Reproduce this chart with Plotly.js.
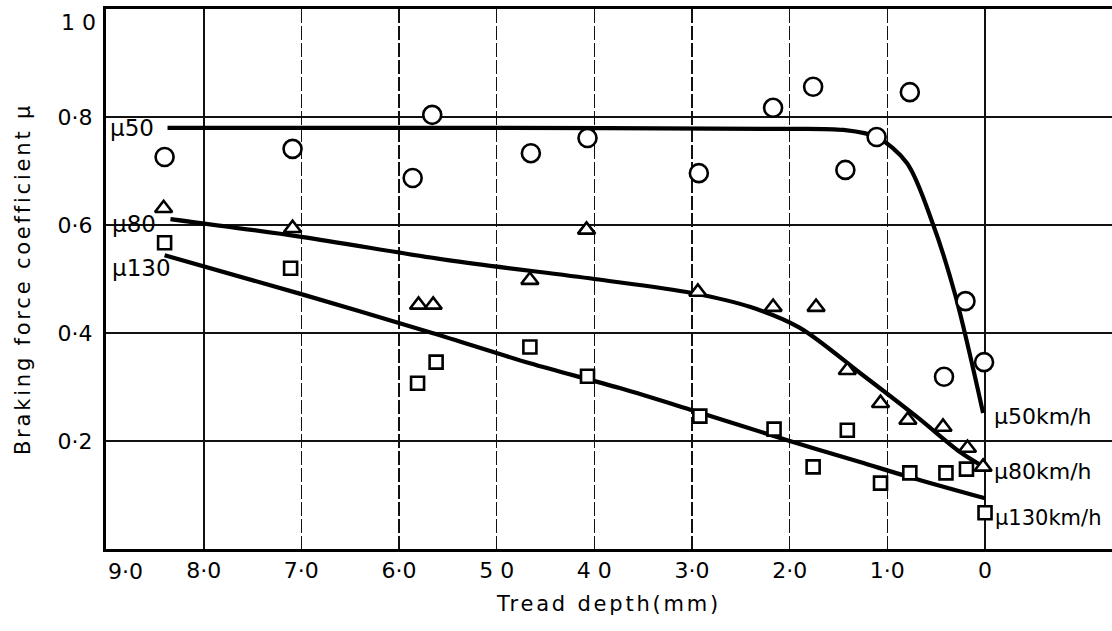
<!DOCTYPE html>
<html>
<head>
<meta charset="utf-8">
<script src="https://cdn.plot.ly/plotly-3.0.1.min.js"></script>
<style>
  html, body { margin: 0; padding: 0; background: #fff; }
  #chart { width: 1112px; height: 631px; }
  .xtitle, .ytitle { letter-spacing: 2.8px; }
</style>
</head>
<body>
<div id="chart"></div>
<script>
// Tread depth (mm) axis ticks
const depthTicks = [8, 7, 6, 5, 4, 3, 2, 1, 0];
const depthTickText = ["8·0", "7·0", "6·0", "5 0", "4 0", "3·0", "2·0", "1·0", "0"];
const muTicks = [0.2, 0.4, 0.6, 0.8];
const muTickText = ["0·2", "0·4", "0·6", "0·8"];

// Measured points, 50 km/h (circles)
const depth50 = [8.40, 7.09, 5.86, 5.66, 4.65, 4.07, 2.93, 2.17, 1.76, 1.43, 1.11, 0.77, 0.42, 0.20, 0.01];
const mu50 = [0.726, 0.741, 0.687, 0.804, 0.733, 0.761, 0.696, 0.817, 0.856, 0.702, 0.763, 0.846, 0.319, 0.459, 0.346];

// Measured points, 80 km/h (triangles)
const depth80 = [8.41, 7.09, 5.80, 5.65, 4.66, 4.08, 2.94, 2.17, 1.73, 1.41, 1.07, 0.79, 0.43, 0.18, 0.02];
const mu80 = [0.631, 0.594, 0.452, 0.452, 0.498, 0.591, 0.476, 0.448, 0.448, 0.331, 0.270, 0.239, 0.226, 0.187, 0.152];

// Measured points, 130 km/h (squares)
const depth130 = [8.40, 7.11, 5.81, 5.62, 4.66, 4.07, 2.92, 2.16, 1.76, 1.41, 1.07, 0.77, 0.40, 0.19, 0.00];
const mu130 = [0.567, 0.520, 0.307, 0.346, 0.374, 0.320, 0.246, 0.222, 0.152, 0.220, 0.122, 0.141, 0.141, 0.148, 0.067];

// Fitted trend curves
const fit50Depth = [8.37, 5.0, 2.2, 1.45, 1.11, 0.80, 0.53, 0.30, 0.02];
const fit50Mu = [0.780, 0.780, 0.778, 0.776, 0.763, 0.715, 0.600, 0.467, 0.252];
const fit80Depth = [8.34, 7.0, 5.5, 4.0, 3.0, 2.4, 1.9, 1.28, 0.70, 0.26, 0.05];
const fit80Mu = [0.611, 0.578, 0.535, 0.500, 0.474, 0.448, 0.410, 0.326, 0.245, 0.180, 0.156];
const fit130Depth = [8.40, 7.0, 5.66, 4.66, 3.74, 3.0, 2.0, 1.28, 0.77, 0.0];
const fit130Mu = [0.544, 0.472, 0.400, 0.344, 0.298, 0.257, 0.200, 0.161, 0.133, 0.094];

const FONT = "DejaVu Sans, Liberation Sans, sans-serif";
const INK = "#000";

function curve(x, y) {
  return { x: x, y: y, type: "scatter", mode: "lines", hoverinfo: "skip",
           line: { color: INK, width: 4.2, shape: "spline", smoothing: 0.9 }, showlegend: false };
}
function points(x, y, symbol, size) {
  return { x: x, y: y, type: "scatter", mode: "markers", showlegend: false,
           marker: { symbol: symbol, size: size, color: "#fff", line: { color: INK, width: 2.6 } } };
}

const traces = [
  curve(fit50Depth, fit50Mu),
  curve(fit80Depth, fit80Mu),
  curve(fit130Depth, fit130Mu),
  points(depth50, mu50, "circle", 18),
  points(depth80, mu80, "triangle-up", 15),
  points(depth130, mu130, "square", 13),
  // carrier for the solid grid lines at 8.0 and 0
  { x: [0], y: [0], xaxis: "x2", type: "scatter", mode: "none", showlegend: false, hoverinfo: "skip" }
];

function label(text, x, y, size) {
  return { x: x, y: y, xref: "x", yref: "y", text: text, showarrow: false,
           xanchor: "left", yanchor: "middle",
           font: { family: FONT, size: size || 23, color: INK } };
}

const layout = {
  width: 1112,
  height: 631,
  margin: { l: 106, r: 0, t: 9, b: 82 },
  paper_bgcolor: "#fff",
  plot_bgcolor: "#fff",
  font: { family: FONT, size: 22, color: INK },
  xaxis: {
    range: [9.0, -1.3],
    tickvals: depthTicks,
    ticktext: depthTickText,
    ticks: "",
    showline: true, linecolor: INK, linewidth: 3, mirror: true,
    showgrid: true, gridcolor: "#111", gridwidth: 1.5, griddash: "14px,3px",
    zeroline: false,
    tickfont: { family: FONT, size: 22, color: INK },
    title: { text: "Tread depth(mm)", font: { family: FONT, size: 21, color: INK }, standoff: 14 }
  },
  xaxis2: {
    overlaying: "x", matches: "x", side: "bottom",
    tickvals: [8, 0], showticklabels: false, ticks: "",
    showgrid: true, gridcolor: "#111", gridwidth: 1.8,
    showline: false, zeroline: false
  },
  yaxis: {
    range: [0, 1.0],
    tickvals: muTicks,
    ticktext: muTickText,
    ticks: "",
    ticklabelstandoff: 6,
    showline: true, linecolor: INK, linewidth: 3, mirror: false,
    showgrid: true, gridcolor: "#111", gridwidth: 1.6,
    zeroline: false,
    tickfont: { family: FONT, size: 22, color: INK },
    title: { text: "Braking force coefficient μ", font: { family: FONT, size: 21, color: INK }, standoff: 22 }
  },
  annotations: [
    { x: 9, xref: "x", y: 0, yref: "paper", text: "9·0", showarrow: false,
      xanchor: "left", yanchor: "top", xshift: 0, yshift: -8,
      font: { family: FONT, size: 22, color: INK } },
    { x: 0, xref: "paper", y: 1.0, yref: "y", text: "1 0", showarrow: false,
      xanchor: "right", yanchor: "top", xshift: -8, yshift: 1,
      font: { family: FONT, size: 22, color: INK } },
    label("μ50", 8.98, 0.780),
    label("μ80", 8.96, 0.602),
    label("μ130", 8.96, 0.520),
    label("μ50km/h", -0.07, 0.246, 22),
    label("μ80km/h", -0.07, 0.144, 22),
    label("μ130km/h", -0.08, 0.057, 21)
  ]
};

Plotly.newPlot("chart", traces, layout, { staticPlot: true, displayModeBar: false });
</script>
</body>
</html>
